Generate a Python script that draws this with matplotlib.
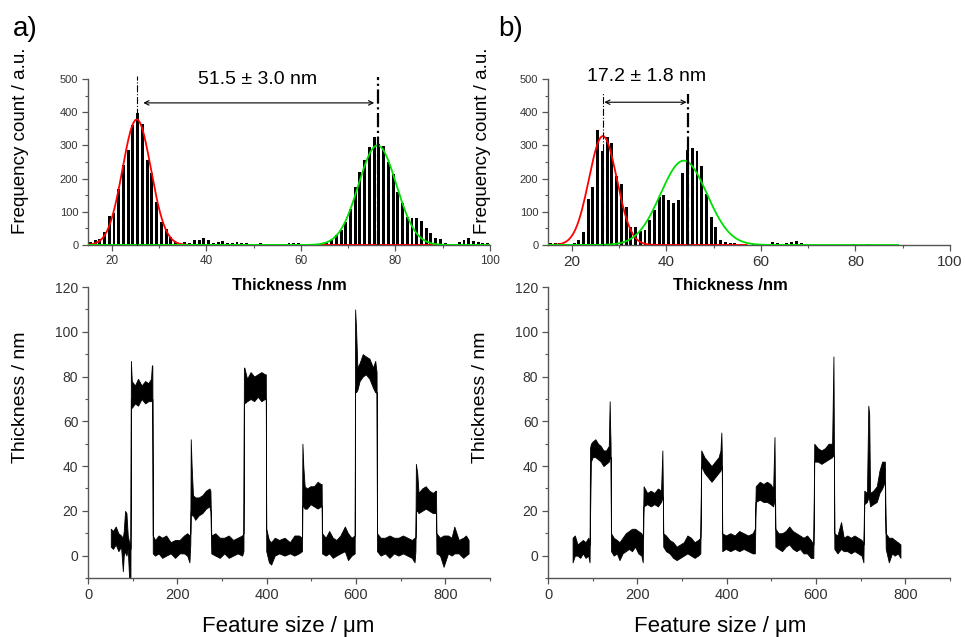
import matplotlib.pyplot as plt
import numpy as np
from matplotlib.ticker import MultipleLocator

plt.rcParams['font.family'] = ['Liberation Sans', 'DejaVu Sans']

# thickness histograms, 1 nm bins, left bin edge starts at 15 nm
BIN_START = 15
HIST_A = [10, 15, 18, 40, 88, 97, 170, 240, 285, 360,
          398, 365, 255, 218, 130, 70, 48, 25, 10, 3,
          10, 7, 15, 15, 20, 15, 5, 10, 12, 5,
          5, 10, 5, 5, 0, 0, 5, 0, 0, 0,
          0, 0, 5, 5, 5, 0, 0, 0, 0, 3,
          5, 15, 30, 45, 70, 107, 175, 220, 257, 295,
          325, 305, 298, 250, 215, 160, 125, 85, 82, 80,
          72, 50, 35, 20, 17, 7, 3, 3, 10, 15,
          22, 13, 8, 5, 5]
HIST_B = [5, 7, 5, 0, 0, 5, 15, 40, 140, 175,
          347, 282, 325, 307, 207, 183, 115, 55, 55, 43,
          45, 75, 105, 145, 150, 135, 127, 137, 218, 285,
          293, 282, 237, 153, 85, 55, 15, 10, 7, 5,
          0, 0, 0, 3, 3, 0, 0, 10, 7, 0,
          5, 10, 13, 5, 0, 0, 0, 0, 0, 0,
          0, 0, 0, 0, 3, 0, 0, 4, 0, 0,
          0, 0, 0, 0, 0, 0, 0, 0, 0, 0,
          0, 0, 0, 0, 0]

# gaussian fits: centre, sigma, height, x from, x to
FIT_A_RED = (25.3, 3.0, 378, 15, 90)
FIT_A_GREEN = (76.2, 4.0, 300, 15, 100)
FIT_B_RED = (26.6, 2.95, 328, 15, 57)
FIT_B_GREEN = (43.7, 4.9, 254, 15, 89)

# peak markers (x, top, width) and step labels
PEAK_LINES_A = [(25.4, 510, 0.8), (76.4, 505, 1.6)]
PEAK_LINES_B = [(26.6, 462, 0.8), (44.7, 455, 1.6)]
ARROW_A = (26.7, 75.5, 428)
ARROW_B = (26.9, 44.3, 430)
LABEL_A = (50.9, 497, '51.5 \u00b1 3.0 nm')
LABEL_B = (35.9, 507, '17.2 \u00b1 1.8 nm')

# height profiles: (position um, lower edge nm, upper edge nm) of the noisy trace
PROFILE_A = [
    (51, 4, 12), (56, 3, 11), (62, 5, 13), (68, 2, 10), (74, 4, 9), (78, -7, 8),
    (80, 0, 11), (83, 2, 20), (86, 0, 19), (89, 3, 9), (92, -10, 6), (95, -10, 3),
    (96, 70, 87), (98, 66, 78), (105, 68, 76), (112, 67, 79), (120, 70, 76),
    (128, 68, 78), (135, 69, 77), (141, 69, 79), (143, 70, 85), (144, 70, 85),
    (145, 1, 9), (150, 0, 7), (158, 1, 9), (166, -1, 8), (175, 0, 9), (185, 1, 6),
    (195, -1, 7), (205, 1, 7), (215, 1, 9), (222, 0, 10), (227, -3, 9), (229, 5, 10),
    (230, 20, 52), (232, 18, 40), (235, 18, 27), (240, 16, 26), (248, 18, 26),
    (256, 19, 27), (264, 21, 29), (272, 22, 30), (274, 20, 29),
    (276, 1, 9), (285, 0, 10), (295, -1, 8), (305, 1, 8), (315, -1, 9), (325, 0, 7),
    (335, 1, 8), (345, 0, 9), (348, 2, 10),
    (349, 68, 84), (350, 68, 84), (356, 69, 79), (364, 70, 82), (372, 69, 80),
    (380, 71, 81), (388, 69, 82), (396, 70, 81), (398, 70, 81),
    (399, 2, 12), (405, -3, 7), (410, -4, 6), (418, 0, 8), (428, 1, 7), (440, 0, 8),
    (452, 1, 6), (462, 0, 9), (472, 1, 9), (479, 2, 8),
    (480, 22, 50), (482, 22, 40), (485, 21, 31), (490, 21, 30), (498, 23, 31),
    (506, 22, 31), (514, 21, 33), (521, 22, 32), (523, 22, 32),
    (524, 1, 10), (532, 0, 8), (540, 1, 11), (548, -1, 8), (556, 0, 7), (565, 1, 9),
    (575, 2, 13), (582, -2, 10), (590, 0, 8), (597, 1, 9),
    (598, 75, 110), (600, 73, 102), (603, 74, 84), (608, 78, 86), (615, 80, 90),
    (622, 81, 89), (630, 79, 88), (638, 75, 84), (643, 73, 87), (646, 73, 82),
    (647, 2, 10), (655, 0, 8), (665, 1, 8), (675, -1, 9), (685, 1, 8), (695, 0, 8),
    (705, 1, 9), (715, 0, 8), (725, -1, 7), (731, -3, 8), (733, 2, 8),
    (734, 20, 41), (737, 20, 37), (740, 19, 28), (748, 20, 30), (756, 21, 31),
    (764, 20, 29), (772, 19, 28), (778, 19, 29), (779, 19, 29),
    (780, 1, 10), (788, 0, 8), (796, -5, 9), (806, 1, 9), (814, 0, 8), (820, 1, 13),
    (830, 1, 7), (840, -1, 8), (846, 0, 9), (852, 1, 7),
]
PROFILE_B = [
    (55, -3, 8), (60, 0, 9), (66, 0, 5), (72, -1, 6), (78, 1, 7), (84, -1, 6),
    (90, 0, 8), (93, -3, 5),
    (94, 16, 48), (96, 42, 50), (100, 44, 51), (106, 44, 52), (112, 43, 50),
    (118, 42, 49), (124, 40, 47), (130, 41, 47), (136, 42, 49), (138, 44, 69),
    (139, 44, 58), (140, 44, 50),
    (141, 2, 10), (147, 0, 8), (154, 1, 7), (160, -2, 6), (167, 1, 8), (174, 2, 10),
    (181, 3, 11), (188, 2, 12), (195, 4, 12), (202, 1, 11), (209, 0, 10), (212, -3, 8),
    (214, 22, 31), (222, 23, 28), (230, 22, 29), (238, 23, 28), (246, 22, 30),
    (253, 24, 29), (256, 26, 47), (257, 26, 30),
    (258, 4, 10), (264, 2, 9), (272, 1, 7), (280, -1, 6), (288, -2, 4), (296, -1, 5),
    (304, 0, 6), (312, 1, 9), (320, 0, 8), (328, -1, 6), (336, 0, 7), (341, 1, 8),
    (343, 40, 47), (350, 37, 44), (358, 35, 42), (366, 33, 40), (374, 35, 42),
    (382, 37, 44), (386, 38, 47), (388, 40, 55), (389, 40, 46),
    (390, 2, 10), (398, 3, 9), (408, 2, 10), (418, 3, 9), (428, 2, 11), (438, 3, 10),
    (448, 2, 9), (458, 1, 10), (463, 1, 12),
    (465, 24, 31), (474, 25, 33), (482, 24, 32), (490, 24, 33), (498, 23, 32),
    (504, 22, 30), (507, 25, 53), (508, 25, 31),
    (509, 4, 12), (516, 3, 10), (524, 2, 10), (532, 4, 11), (540, 5, 13), (548, 3, 11),
    (556, 2, 10), (564, 3, 9), (572, 1, 8), (580, 1, 9), (588, -1, 7), (594, -1, 5),
    (596, 42, 50), (604, 42, 48), (612, 41, 47), (620, 42, 48), (628, 43, 50),
    (636, 44, 50), (639, 45, 89), (640, 45, 50),
    (641, 3, 10), (648, 1, 9), (656, 3, 15), (662, 2, 8), (670, 2, 9), (678, 1, 8),
    (686, 2, 9), (694, 1, 8), (702, 0, 7), (706, -3, 5),
    (708, 23, 29), (714, 24, 28), (717, 26, 67), (719, 25, 63), (721, 22, 28),
    (728, 23, 29), (736, 24, 31), (742, 28, 38), (748, 30, 42), (754, 33, 42),
    (756, 3, 10), (763, -3, 8), (770, 1, 8), (776, 0, 7), (783, 1, 6), (789, -1, 5),
]

SPINE = '#555555'
TICKTXT = '#333333'


def style_axes(ax, xsize, ysize):
    for side in ('top', 'right'):
        ax.spines[side].set_visible(False)
    for side in ('left', 'bottom'):
        ax.spines[side].set_color(SPINE)
        ax.spines[side].set_linewidth(1.0)
    ax.tick_params(which='major', direction='out', length=4, width=0.9,
                   color=SPINE, labelcolor=TICKTXT, pad=3)
    ax.tick_params(which='minor', direction='out', length=2.5, width=0.8, color=SPINE)
    ax.tick_params(axis='x', labelsize=xsize)
    ax.tick_params(axis='y', labelsize=ysize)
    ax.patch.set_visible(False)


def gauss(fit):
    c, s, h, x0, x1 = fit
    x = np.linspace(x0, x1, 600)
    return x, h * np.exp(-0.5 * ((x - c) / s) ** 2)


def draw_hist(ax, counts, fit_red, fit_green, peak_lines, arrow, label, xsize):
    edges = BIN_START + np.arange(len(counts))
    ax.bar(edges + 0.5, counts, width=0.62, color='black', zorder=2)
    xr, yr = gauss(fit_red)
    xg, yg = gauss(fit_green)
    ax.plot(xr, yr, color='#ff0000', lw=1.3, zorder=3)
    ax.plot(xg, yg, color='#00e000', lw=1.3, zorder=4)
    for x, top, lw in peak_lines:
        ax.plot([x, x], [0, top], color='black', lw=lw, ls='-.', zorder=5, clip_on=False)
    x0, x1, y = arrow
    ax.annotate('', xy=(x1, y), xytext=(x0, y),
                arrowprops=dict(arrowstyle='<->', lw=0.8, color='black',
                                mutation_scale=8, shrinkA=0, shrinkB=0))
    ax.text(label[0], label[1], label[2], ha='center', va='center', fontsize=14,
            clip_on=False)
    ax.set_xlim(15, 100)
    ax.set_ylim(0, 500)
    ax.xaxis.set_major_locator(MultipleLocator(20))
    ax.xaxis.set_minor_locator(MultipleLocator(10))
    ax.yaxis.set_major_locator(MultipleLocator(100))
    ax.yaxis.set_minor_locator(MultipleLocator(50))
    style_axes(ax, xsize, 8)
    ax.set_ylabel('Frequency count / a.u.', fontsize=13.5)
    ax.set_xlabel('Thickness /nm', fontsize=12, fontweight='bold')


def draw_profile(ax, profile):
    x, lo, hi = zip(*profile)
    ax.fill_between(x, lo, hi, color='black', lw=0.6, edgecolor='black')
    ax.set_xlim(0, 900)
    ax.set_ylim(-10, 120)
    ax.xaxis.set_major_locator(MultipleLocator(200))
    ax.xaxis.set_minor_locator(MultipleLocator(100))
    ax.yaxis.set_major_locator(MultipleLocator(20))
    ax.yaxis.set_minor_locator(MultipleLocator(10))
    style_axes(ax, 10.5, 10)
    ax.set_ylabel('Thickness / nm', fontsize=14)
    ax.set_xlabel('Feature size / \u03bcm', fontsize=16)


fig = plt.figure(figsize=(9.65, 6.37), dpi=100)
ax_pa = fig.add_axes([0.0912, 0.0926, 0.4166, 0.4568])
ax_pb = fig.add_axes([0.5679, 0.0926, 0.4166, 0.4568])
ax_ha = fig.add_axes([0.0912, 0.6154, 0.4166, 0.2606])
ax_hb = fig.add_axes([0.5679, 0.6154, 0.4166, 0.2606])
ax_ha.set_zorder(3)
ax_hb.set_zorder(3)

draw_hist(ax_ha, HIST_A, FIT_A_RED, FIT_A_GREEN, PEAK_LINES_A, ARROW_A, LABEL_A, 8.5)
draw_hist(ax_hb, HIST_B, FIT_B_RED, FIT_B_GREEN, PEAK_LINES_B, ARROW_B, LABEL_B, 11)
draw_profile(ax_pa, PROFILE_A)
draw_profile(ax_pb, PROFILE_B)

# label placement (axes fractions)
for ax, xl, yl in [(ax_ha, (0.5, -0.245), (-0.169, 0.63)),
                   (ax_hb, (0.453, -0.245), (-0.162, 0.63)),
                   (ax_pa, (0.4975, -0.165), (-0.167, 0.62)),
                   (ax_pb, (0.428, -0.165), (-0.167, 0.62))]:
    ax.xaxis.set_label_coords(*xl)
    ax.yaxis.set_label_coords(*yl)
    ax.xaxis.label.set_verticalalignment('center')
    ax.yaxis.label.set_verticalalignment('center')

fig.text(13 / 965, 1 - 36 / 637, 'a)', fontsize=20, ha='left', va='baseline')
fig.text(498 / 965, 1 - 36 / 637, 'b)', fontsize=20, ha='left', va='baseline')

plt.savefig('out.png', dpi=100)
